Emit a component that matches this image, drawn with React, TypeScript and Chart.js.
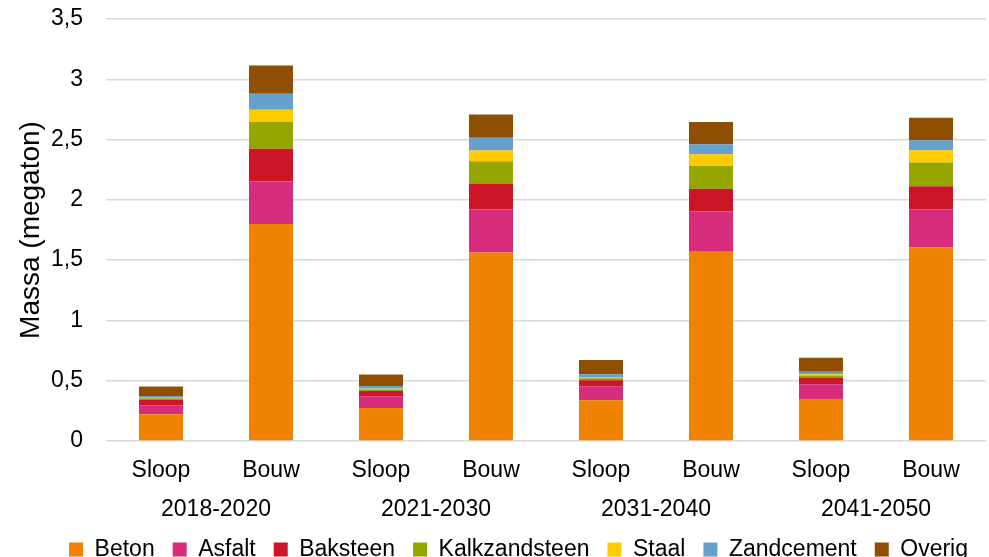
import React, { useEffect, useRef } from "react";
import { Chart, registerables } from "chart.js";

Chart.register(...registerables);

const categories = ["Sloop", "Bouw", "Sloop", "Bouw", "Sloop", "Bouw", "Sloop", "Bouw"];
const periods = ["2018-2020", "2021-2030", "2031-2040", "2041-2050"];
const yTicks = [0, 0.5, 1, 1.5, 2, 2.5, 3, 3.5];

const beton = [0.222, 1.8, 0.274, 1.563, 0.338, 1.569, 0.349, 1.604];
const asfalt = [0.075, 0.352, 0.097, 0.357, 0.116, 0.335, 0.122, 0.318];
const baksteen = [0.044, 0.272, 0.044, 0.216, 0.05, 0.189, 0.055, 0.191];
const kalkzandsteen = [0.013, 0.221, 0.012, 0.185, 0.017, 0.188, 0.017, 0.197];
const staal = [0.005, 0.103, 0.007, 0.089, 0.01, 0.097, 0.01, 0.102];
const zandcement = [0.015, 0.133, 0.022, 0.106, 0.023, 0.083, 0.022, 0.083];
const overig = [0.078, 0.233, 0.095, 0.191, 0.117, 0.185, 0.115, 0.186];

const seriesNames = ["Beton", "Asfalt", "Baksteen", "Kalkzandsteen", "Staal", "Zandcement", "Overig"];
const seriesValues = [beton, asfalt, baksteen, kalkzandsteen, staal, zandcement, overig];
const seriesColors = ["#EF8200", "#D72B7C", "#CC1526", "#96A600", "#FFCB00", "#66A0CC", "#8F4E00"];

const FONT = "'Liberation Sans', Arial, sans-serif";

export default function App() {
  const ref = useRef<HTMLCanvasElement | null>(null);
  useEffect(() => {
    if (!ref.current) return;
    const chart = new Chart(ref.current, {
      type: "bar",
      data: {
        labels: categories,
        datasets: seriesNames.map((name, i) => ({
          label: name,
          data: seriesValues[i],
          backgroundColor: seriesColors[i],
          borderWidth: 0,
          xAxisID: "x",
          yAxisID: "y",
          categoryPercentage: 1,
          barPercentage: 0.4,
        })),
      },
      options: {
        responsive: false,
        animation: false,
        layout: { padding: { top: 19, right: 3, bottom: -14, left: 0 } },
        plugins: {
          tooltip: { enabled: false },
          legend: {
            position: "bottom",
            align: "end",
            labels: {
              font: { family: FONT, size: 23 },
              color: "#000",
              boxWidth: 14,
              boxHeight: 14,
              padding: 18,
            },
          },
        },
        scales: {
          x: {
            stacked: true,
            position: "bottom",
            grid: { display: false, drawTicks: false },
            border: { display: false },
            ticks: { font: { family: FONT, size: 23 }, color: "#000", padding: 16, maxRotation: 0 },
            afterFit: (axis: any) => { axis.height = 44; },
          },
          x2: {
            type: "category",
            labels: periods,
            position: "bottom",
            offset: true,
            grid: { display: false, drawTicks: false },
            border: { display: false },
            ticks: { font: { family: FONT, size: 23 }, color: "#000", padding: 11, maxRotation: 0 },
            afterFit: (axis: any) => { axis.height = 35; },
          },
          y: {
            stacked: true,
            min: 0,
            max: 3.5,
            afterBuildTicks: (axis: any) => { axis.ticks = yTicks.map((v) => ({ value: v })); },
            grid: { color: "#D9D9D9", lineWidth: 1.5, drawTicks: false },
            border: { display: false },
            ticks: {
              font: { family: FONT, size: 23 },
              color: "#000",
              padding: 23,
              callback: (v: any) => String(v).replace(".", ","),
            },
            title: {
              display: true,
              text: "Massa (megaton)",
              font: { family: FONT, size: 28 },
              color: "#000",
              padding: { top: 14, bottom: 0 },
            },
            afterFit: (axis: any) => {
              axis.width = 106;
              axis.paddingTop = 0;
              axis.paddingBottom = 0;
            },
          },
        },
      },
    });
    return () => chart.destroy();
  }, []);
  return (
    <div style={{ position: "fixed", left: 0, top: 0, width: 989, height: 557, background: "#fff" }}>
      <canvas ref={ref} width={989} height={557} style={{ display: "block" }} />
    </div>
  );
}
